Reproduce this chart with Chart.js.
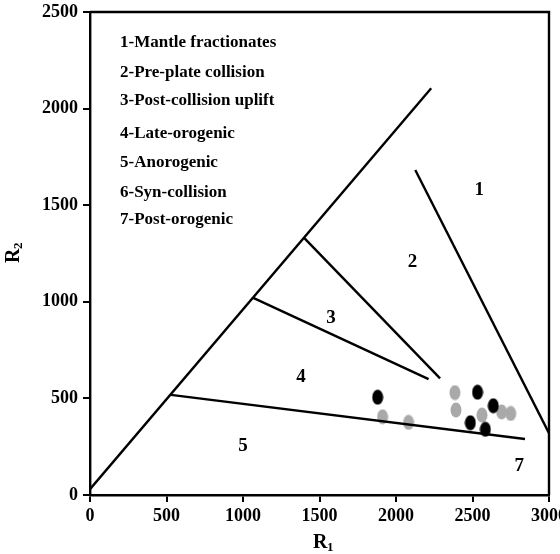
<!DOCTYPE html>
<html>
<head>
<meta charset="utf-8">
<script src="https://cdn.jsdelivr.net/npm/chart.js@4.4.1/dist/chart.umd.min.js"></script>
<style>
  html, body { margin: 0; padding: 0; background: #fff; }
  #wrap { width: 560px; height: 554px; }
</style>
</head>
<body>
<div id="wrap"><canvas id="r1r2"></canvas></div>
<script>
// R1-R2 discrimination diagram

// field boundaries, [R1, R2] end points
var outerEdge = [[0, 30], [2230, 2105]];
var edge12 = [[2126, 1682], [3000, 320]];
var edge23 = [[1401, 1330], [2288, 604]];
var edge34 = [[1067, 1020], [2213, 600]];
var edge45 = [[529, 518], [2843, 290]];

// samples
var blackR1 = [1880, 2533, 2636, 2486, 2584];
var blackR2 = [506, 532, 462, 374, 340];
var grayR1 = [1912, 2082, 2385, 2392, 2562, 2690, 2750];
var grayR2 = [405, 376, 530, 440, 414, 430, 422];

// field numbers
var fieldNames = ['1', '2', '3', '4', '5', '7'];
var fieldR1 = [2544, 2108, 1575, 1379, 1000, 2806];
var fieldR2 = [1579, 1207, 915, 609, 254, 150];

var legendLines = [
  '1-Mantle fractionates',
  '2-Pre-plate collision',
  '3-Post-collision uplift',
  '4-Late-orogenic',
  '5-Anorogenic',
  '6-Syn-collision',
  '7-Post-orogenic'
];

var xTicks = [0, 500, 1000, 1500, 2000, 2500, 3000];
var yTicks = [0, 500, 1000, 1500, 2000, 2500];

var SERIF = '"Liberation Serif", "Times New Roman", serif';

function ellipseDot(color) {
  var c = document.createElement('canvas');
  c.width = 12; c.height = 16;
  var g = c.getContext('2d');
  g.fillStyle = color;
  g.beginPath();
  g.ellipse(6, 8, 5.5, 7.5, 0, 0, Math.PI * 2);
  g.fill();
  return c;
}

function pts(xs, ys) {
  return xs.map(function (x, i) { return { x: x, y: ys[i] }; });
}
function seg(p) {
  return p.map(function (q) { return { x: q[0], y: q[1] }; });
}
function lineSet(p) {
  return {
    type: 'line', data: seg(p), showLine: true, borderColor: '#000',
    borderWidth: 2.4, pointRadius: 0, fill: false
  };
}
function plain(v) { return String(v); }

var annotate = {
  id: 'annotate',
  afterDraw: function (chart) {
    var ctx = chart.ctx, a = chart.chartArea;
    var xs = chart.scales.x, ys = chart.scales.y;
    ctx.save();
    // frame top and right
    ctx.strokeStyle = '#000';
    ctx.lineWidth = 2.4;
    ctx.beginPath();
    ctx.moveTo(a.left, a.top);
    ctx.lineTo(a.right, a.top);
    ctx.lineTo(a.right, a.bottom);
    ctx.stroke();

    ctx.fillStyle = '#000';
    ctx.textAlign = 'center';
    ctx.textBaseline = 'middle';
    ctx.font = 'bold 19px ' + SERIF;
    fieldNames.forEach(function (n, i) {
      ctx.fillText(n, xs.getPixelForValue(fieldR1[i]), ys.getPixelForValue(fieldR2[i]));
    });

    ctx.textAlign = 'left';
    ctx.font = 'bold 17px ' + SERIF;
    var rows = [43, 73, 101, 134, 163, 193, 220];
    legendLines.forEach(function (t, i) {
      ctx.fillText(t, 120, rows[i]);
    });

    // axis titles with subscripts
    ctx.font = 'bold 20px ' + SERIF;
    ctx.fillText('R', 313, 543);
    ctx.font = 'bold 13px ' + SERIF;
    ctx.fillText('1', 327, 548);

    ctx.translate(14, 256);
    ctx.rotate(-Math.PI / 2);
    ctx.font = 'bold 20px ' + SERIF;
    ctx.fillText('R', -7, 0);
    ctx.font = 'bold 13px ' + SERIF;
    ctx.fillText('2', 7, 5);
    ctx.restore();
  }
};

new Chart(document.getElementById('r1r2'), {
  type: 'scatter',
  data: {
    datasets: [
      { data: pts(blackR1, blackR2), pointStyle: ellipseDot('#000'), pointRadius: 7 },
      lineSet(outerEdge),
      lineSet(edge12),
      lineSet(edge23),
      lineSet(edge34),
      lineSet(edge45),
      { data: pts(grayR1, grayR2), pointStyle: ellipseDot('#a9a9a9'), pointRadius: 7 }
    ]
  },
  options: {
    responsive: true,
    maintainAspectRatio: false,
    animation: false,
    events: [],
    layout: { padding: { top: 12, right: 11, left: 0, bottom: 0 } },
    plugins: { legend: { display: false }, tooltip: { enabled: false } },
    scales: {
      x: {
        type: 'linear', min: 0, max: 3000,
        afterBuildTicks: function (s) { s.ticks = xTicks.map(function (v) { return { value: v }; }); },
        afterFit: function (s) { s.height = 59; s.paddingLeft = 0; s.paddingRight = 0; },
        ticks: { color: '#000', padding: 4, callback: plain, font: { family: SERIF, size: 18, weight: 'bold' } },
        grid: { drawOnChartArea: false, drawTicks: true, tickLength: 7, color: '#000', lineWidth: 2 },
        border: { display: true, color: '#000', width: 2.4 }
      },
      y: {
        type: 'linear', min: 0, max: 2500,
        afterBuildTicks: function (s) { s.ticks = yTicks.map(function (v) { return { value: v }; }); },
        afterFit: function (s) { s.width = 90; s.paddingTop = 0; s.paddingBottom = 0; },
        ticks: { color: '#000', padding: 5, callback: plain, font: { family: SERIF, size: 18, weight: 'bold' } },
        grid: { drawOnChartArea: false, drawTicks: true, tickLength: 7, color: '#000', lineWidth: 2 },
        border: { display: true, color: '#000', width: 2.4 }
      }
    }
  },
  plugins: [annotate]
});
</script>
</body>
</html>
